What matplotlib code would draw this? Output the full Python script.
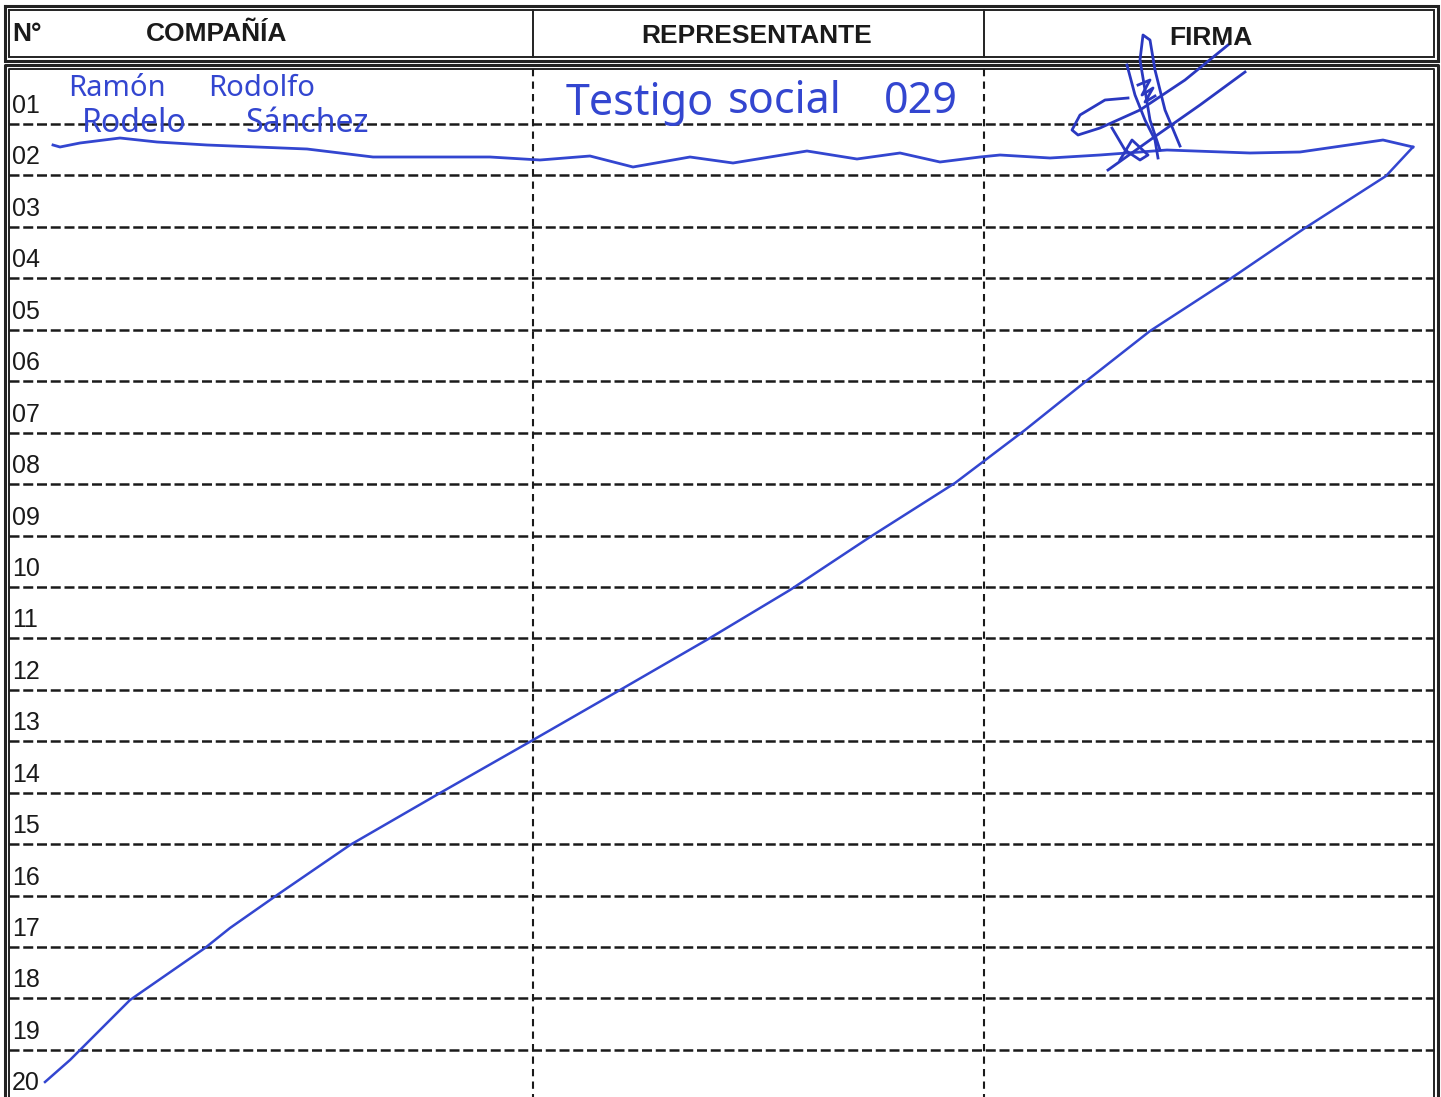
import matplotlib.pyplot as plt
import numpy as np

plt.rcParams['font.family'] = ['Liberation Sans', 'DejaVu Sans']

# form contents
headers = ["N°", "COMPAÑÍA", "REPRESENTANTE", "FIRMA"]
header_x = [12, 217, 757, 1211]
row_numbers = ["%02d" % i for i in range(1, 21)]
company_words = ["Ramón", "Rodolfo", "Rodelo", "Sánchez"]
company_pos = [(68, 89), (208, 89), (82, 124), (245, 124)]
representative_words = ["Testigo", "social", "029"]
representative_pos = [(566, 104), (728, 102), (884, 102)]

# handwritten strokes (page pixel coordinates)
wave_x = [53, 60, 80, 120, 157, 207, 257, 307, 373, 440, 490, 540, 590, 633, 690,
          733, 807, 857, 900, 940, 980, 1000, 1050, 1100, 1167, 1250, 1300, 1383, 1413]
wave_y = [145, 147, 143, 138, 142, 145, 147, 149, 157, 157, 157, 160, 156, 167, 157,
          163, 151, 159, 153, 162, 157, 155, 158, 155, 150, 153, 152, 140, 147]
diag_x = [1413, 1386, 1305, 1230, 1150, 1085, 1025, 955, 870, 790, 710, 620, 533,
          440, 350, 280, 230, 205, 130, 70, 45]
diag_y = [147, 176, 228, 279, 331, 382, 430, 483, 537, 590, 638, 690, 740,
          793, 845, 893, 928, 948, 1000, 1060, 1082]
sig_strokes = [
    ([1108, 1150, 1200, 1245], [170, 140, 105, 72]),
    ([1128, 1105, 1080, 1072, 1078, 1100, 1140, 1185, 1228],
     [98, 100, 115, 130, 135, 128, 110, 80, 45]),
    ([1160, 1150, 1145, 1140, 1143, 1150, 1155, 1165, 1180],
     [150, 120, 90, 60, 35, 40, 70, 110, 146]),
    ([1127, 1135, 1145, 1155, 1158], [65, 95, 120, 140, 158]),
    ([1112, 1125, 1140, 1148, 1132, 1120], [128, 150, 160, 155, 140, 160]),
    ([1138, 1150, 1142, 1153, 1145, 1155], [85, 80, 95, 88, 102, 96]),
]
ink = '#3346d0'

fig = plt.figure(figsize=(14.41, 10.97), dpi=100)
ax = fig.add_axes([0, 0, 1, 1])
ax.set_xlim(0, 1441)
ax.set_ylim(1097, 0)
ax.axis('off')

def rect(x0, y0, x1, y1, lw):
    ax.plot([x0, x1, x1, x0, x0], [y0, y0, y1, y1, y0], color='#222222', lw=lw,
            solid_joinstyle='miter')

# header double frame
rect(5, 6, 1438, 61, 2.2)
rect(9, 10, 1434, 57, 1.4)
for xv in [533, 984]:
    ax.plot([xv, xv], [10, 57], color='#222222', lw=1.4)
for txt, xh in zip(headers, header_x):
    ha = 'left' if txt == "N°" else 'center'
    yh = 34 if xh < 700 else (36 if xh < 1000 else 38)
    ax.text(xh, yh, txt, ha=ha, va='center', fontsize=19, fontweight='bold',
            color='#1a1a1a')

# body double frame
ax.plot([5, 5, 1438, 1438], [1100, 65, 65, 1100], color='#222222', lw=2.2)
ax.plot([9, 9, 1434, 1434], [1100, 69, 69, 1100], color='#222222', lw=1.4)

row_h = 51.44
for k in range(19):
    yl = 124 + row_h * k
    ax.plot([9, 1434], [yl, yl], color='#1a1a1a', lw=1.8, dashes=(4, 1.5))
for xv in [533, 984]:
    ax.plot([xv, xv], [69, 1100], color='#1a1a1a', lw=1.5, dashes=(3.5, 2.5))
for k, lab in enumerate(row_numbers):
    ax.text(12, 106 + row_h * k, lab, ha='left', va='center', fontsize=18,
            color='#1a1a1a')

# handwriting
hand = dict(ha='left', va='center', color=ink, family=['Noto Sans', 'DejaVu Sans'],
            fontweight='light')
for w, (xw, yw) in zip(company_words, company_pos):
    ax.text(xw, yw, w, fontsize=21 if yw < 100 else 23, **hand)
for w, (xw, yw) in zip(representative_words, representative_pos):
    ax.text(xw, yw, w, fontsize=31, **hand)
ax.plot(wave_x, wave_y, color=ink, lw=2.0)
ax.plot(diag_x, diag_y, color=ink, lw=1.8)
for sx, sy in sig_strokes:
    ax.plot(sx, sy, color='#2a38c0', lw=2.0)

fig.savefig('out.png', dpi=100)
